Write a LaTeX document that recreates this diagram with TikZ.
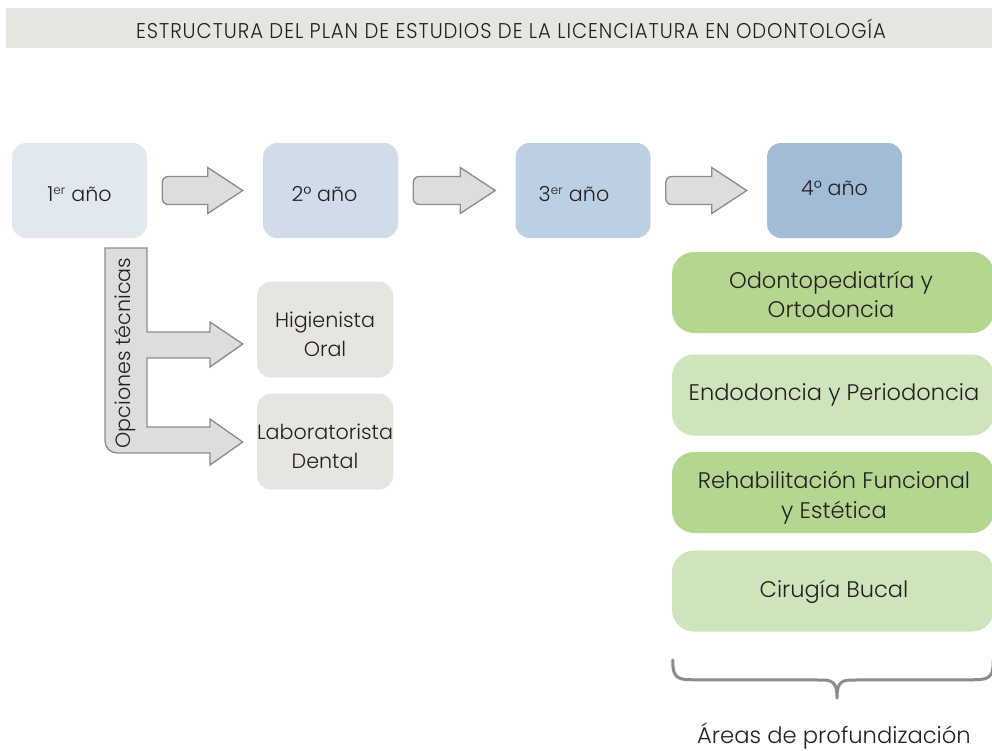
\documentclass[tikz,border=0pt]{standalone}
\usepackage{fontspec}
\setmainfont{Poppins Light}
\newfontfamily\titlefont[FakeStretch=0.92,LetterSpace=4.5]{Poppins Light}
\usetikzlibrary{positioning,calc}
\definecolor{titlebg}{HTML}{E6E6E0}
\definecolor{yearA}{HTML}{E1E8F0}
\definecolor{yearB}{HTML}{D0DCEA}
\definecolor{yearC}{HTML}{BDD0E3}
\definecolor{yearD}{HTML}{A3BCD6}
\definecolor{optbg}{HTML}{E6E5DF}
\definecolor{greenD}{HTML}{B5D690}
\definecolor{greenL}{HTML}{CDE4BC}
\definecolor{arrowfill}{HTML}{DCDDDE}
\definecolor{arrowline}{HTML}{8C8C8C}
\definecolor{txt}{HTML}{231F20}
\tikzset{
  box/.style={rounded corners=10.5pt, inner sep=0pt},
  yearbox/.style={box, minimum width=101.25pt, minimum height=71.25pt},
  optbox/.style={box, fill=optbg, minimum width=102pt, minimum height=72pt},
  areabox/.style={box, minimum width=241.5pt, minimum height=60.75pt, rounded corners=16.5pt},
  lbl/.style={inner sep=0pt, align=center, text=txt, font=\fontsize{15.5}{21.5}\selectfont},
  arealbl/.style={lbl, font=\fontsize{16.9}{22}\selectfont},
  blockarrow/.style={fill=arrowfill, draw=arrowline, line width=1pt, line join=miter},
}
\begin{document}
\begin{tikzpicture}[x=0.75pt,y=-0.75pt]
\useasboundingbox (0,0) rectangle (992,750);
% title
\fill[titlebg] (6,8) rectangle (992,48);
\node[text=txt, font=\titlefont\fontsize{16}{18}\selectfont] (title) at (511,29)
  {ESTRUCTURA DEL PLAN DE ESTUDIOS DE LA LICENCIATURA EN ODONTOLOGÍA};
% years
\node[yearbox, fill=yearA] (y1) at (79.5,190.5) {};
\node[yearbox, fill=yearB] (y2) at (330.5,190.5) {};
\node[yearbox, fill=yearC] (y3) at (583,190.5) {};
\node[yearbox, fill=yearD] (y4) at (834.5,190.5) {};
\node[lbl] (y1t) at ($(y1)+(0,4)$) {1\textsuperscript{\fontsize{9}{9}\selectfont er} año};
\node[lbl] (y2t) at ($(y2)+(-6,4)$) {2° año};
\node[lbl] (y3t) at ($(y3)+(-9,4)$) {3\textsuperscript{\fontsize{9}{9}\selectfont er} año};
\node[lbl] (y4t) at ($(y4)+(0,-2)$) {4° año};
% block arrows between years
\foreach \a/\b in {y1/y2, y2/y3, y3/y4}{
  \path ($(\a.east)+(15,0)$) coordinate (s) ($(\b.west)+(-20,0)$) coordinate (t);
  \draw[blockarrow]
    ($(s)+(6,-14)$) -- ($(t)+(-35,-14)$) -- ($(t)+(-35,-23)$) -- (t)
    -- ($(t)+(-35,23)$) -- ($(t)+(-35,14)$) -- ($(s)+(6,14)$)
    arc[start angle=270, end angle=180, radius=4.5pt] -- ($(s)+(0,-8)$)
    arc[start angle=180, end angle=90, radius=4.5pt] -- cycle;
}
% technical options
\node[optbox] (hig) at (325,329.5) {};
\node[optbox] (lab) at (325,441.5) {};
\node[lbl] (higt) at ($(hig)+(0,5)$) {Higienista\\Oral};
\node[lbl] (labt) at ($(lab)+(0,5)$) {Laboratorista\\Dental};
\coordinate (tipH) at ($(hig.west)+(-14,15)$);
\coordinate (tipL) at ($(lab.west)+(-14,0)$);
\draw[blockarrow]
  (105,248) -- (147,248) -- (147,332) -- (210,332) -- (210,322) -- (tipH |- 0,344)
  -- (210,367) -- (210,358) -- (147,358) -- (147,427) -- (210,427) -- (210,419)
  -- (tipL |- 0,442) -- (210,465) -- (210,453) -- (117,453)
  arc[start angle=270, end angle=180, radius=9pt] -- cycle;
\node[lbl, rotate=90] (opc) at (125,353) {Opciones técnicas};
% areas
\node[areabox, fill=greenD] (a1) at (833,292.5) {};
\node[areabox, fill=greenL] (a2) at (833,395) {};
\node[areabox, fill=greenD] (a3) at (833,492.5) {};
\node[areabox, fill=greenL] (a4) at (833,591) {};
\node[arealbl] (a1t) at ($(a1)+(-2,2)$) {Odontopediatría y\\Ortodoncia};
\node[arealbl] (a2t) at ($(a2)+(1,0)$) {Endodoncia y Periodoncia};
\node[arealbl] (a3t) at ($(a3)+(1,5)$) {Rehabilitación Funcional\\y Estética};
\node[arealbl] (a4t) at ($(a4)+(1,1)$) {Cirugía Bucal};
% brace
\coordinate (bl) at ($(a4.south west)+(1,28)$);
\coordinate (br) at ($(a4.south east)+(-1,28)$);
\coordinate (bm) at (837,698);
\draw[arrowline, line width=2.25pt, line cap=round, line join=round]
  (bl) .. controls ($(bl)+(0,20)$) and ($(bl)+(5,20)$) .. ($(bl)+(25,20)$)
  -- ($(bm)+(-14,-18)$) .. controls ($(bm)+(-2,-18)$) and ($(bm)+(0,-12)$) .. (bm)
  (bm) .. controls ($(bm)+(0,-12)$) and ($(bm)+(2,-18)$) .. ($(bm)+(14,-18)$)
  -- ($(br)+(-25,20)$) .. controls ($(br)+(-5,20)$) and ($(br)+(0,20)$) .. (br);
\node[text=txt, font=\fontsize{17}{20}\selectfont] (areas) at (834,736) {Áreas de profundización};
\end{tikzpicture}
\end{document}
